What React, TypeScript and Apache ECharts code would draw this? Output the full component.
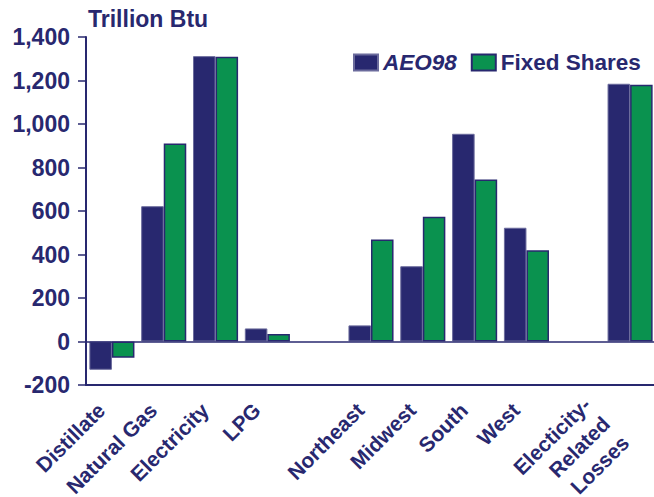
import React, { useEffect, useRef } from "react";
import * as echarts from "echarts";

const categories = [
  "Distillate",
  "Natural Gas",
  "Electricity",
  "LPG",
  "",
  "Northeast",
  "Midwest",
  "South",
  "West",
  "",
  "Electicity-\nRelated\nLosses",
];
const aeo98 = [-130, 622, 1312, 60, null, 74, 346, 955, 523, null, 1185];
const fixedShares = [-75, 910, 1309, 35, null, 469, 573, 745, 420, null, 1180];
const seriesNames = ["AEO98", "Fixed Shares"];
const unitTitle = "Trillion Btu";

const NAVY = "#28286f";
const GREEN = "#0a924f";
const FONT = "'Liberation Sans', Arial, sans-serif";

export default function App() {
  const ref = useRef<HTMLDivElement>(null);
  useEffect(() => {
    if (!ref.current) return;
    const chart = echarts.init(ref.current, null, { renderer: "svg" });
    const catData = categories.map((c) =>
      c.indexOf("\n") >= 0
        ? { value: c, textStyle: { padding: [44, 34, 0, 0], lineHeight: 27, align: "right" } }
        : c
    );
    chart.setOption({
      animation: false,
      backgroundColor: "#ffffff",
      textStyle: { fontFamily: FONT },
      title: {
        text: unitTitle,
        left: 83,
        top: 2,
        textStyle: { color: NAVY, fontSize: 23, fontWeight: "bold", fontFamily: FONT },
      },
      legend: {
        left: 353,
        top: 51,
        width: 320,
        padding: 0,
        icon: "rect",
        itemWidth: 24,
        itemHeight: 16,
        itemGap: 14,
        selectedMode: false,
        textStyle: { color: NAVY, fontSize: 22.5, fontWeight: "bold", fontFamily: FONT },
        data: [
          { name: seriesNames[0], textStyle: { fontStyle: "italic" } },
          { name: seriesNames[1] },
        ],
      },
      grid: { left: 86, top: 37, width: 570, height: 348, outerBoundsMode: "none", containLabel: false },
      xAxis: {
        type: "category",
        data: catData,
        position: "bottom",
        axisLine: { onZero: false, lineStyle: { color: NAVY, width: 2 } },
        axisTick: { show: false },
        axisLabel: {
          interval: 0,
          rotate: 45,
          margin: 11,
          padding: [0, 15, 13, 0],
          color: NAVY,
          fontSize: 21,
          fontWeight: "bold",
          fontFamily: FONT,
          lineHeight: 21,
        },
      },
      yAxis: {
        type: "value",
        min: -200,
        max: 1400,
        interval: 200,
        axisLine: { show: true, lineStyle: { color: NAVY, width: 2 } },
        axisTick: { show: true, length: 8, lineStyle: { color: NAVY, width: 1.5 } },
        splitLine: { show: false },
        axisLabel: {
          margin: 16,
          color: NAVY,
          fontSize: 23,
          fontWeight: "bold",
          fontFamily: FONT,
          formatter: (v: number) => v.toLocaleString("en-US"),
        },
      },
      series: [
        {
          name: seriesNames[0],
          type: "bar",
          data: aeo98,
          barGap: "0%",
          barCategoryGap: "13%",
          itemStyle: { color: NAVY, borderColor: "#6b6b9c", borderWidth: 1 },
          markLine: {
            silent: true,
            symbol: "none",
            label: { show: false },
            lineStyle: { color: NAVY, width: 1.5, type: "solid" },
            data: [{ yAxis: 0 }],
          },
        },
        {
          name: seriesNames[1],
          type: "bar",
          data: fixedShares,
          barGap: "0%",
          barCategoryGap: "13%",
          itemStyle: { color: GREEN, borderColor: NAVY, borderWidth: 1.5 },
        },
      ],
    });
    return () => chart.dispose();
  }, []);
  return <div ref={ref} style={{ width: 654, height: 497, position: "absolute", left: 0, top: 0 }} />;
}
